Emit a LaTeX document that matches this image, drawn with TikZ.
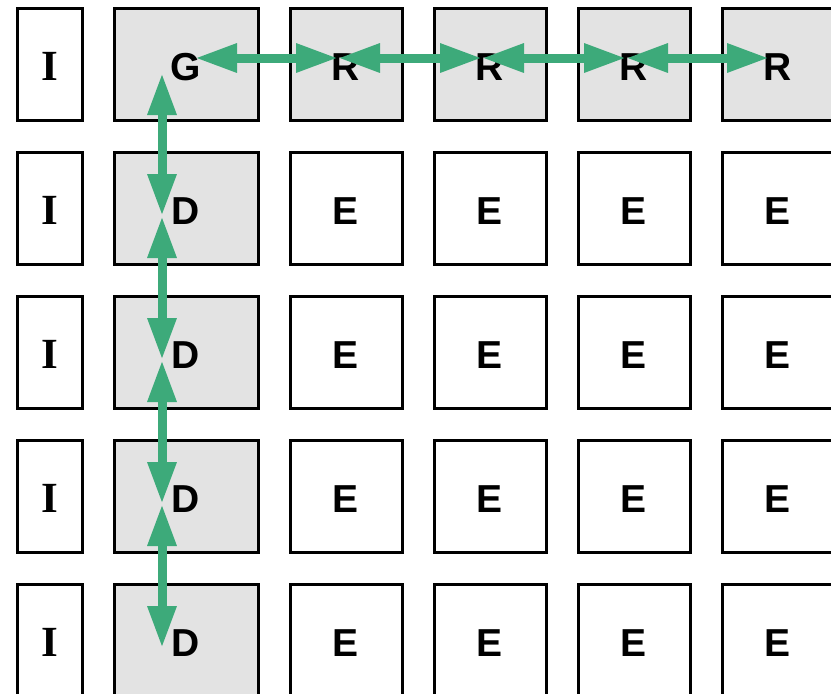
\documentclass[tikz,border=0pt]{standalone}
\usepackage{fontspec}
\setmainfont{Liberation Sans}
\newfontfamily\serifbold{Liberation Serif Bold}
\usetikzlibrary{arrows.meta,calc}
\definecolor{arrowgreen}{HTML}{3DAA7A}
\definecolor{cellgray}{HTML}{E3E3E3}
\tikzset{
  cell/.style={draw=black, line width=3pt, minimum height=112pt, inner sep=0pt,
    font=\fontsize{39}{39}\selectfont\bfseries, text height=32pt, text depth=0pt},
  narrowcell/.style={cell, fill=white, minimum width=65pt,
    font=\fontsize{43}{43}\selectfont\serifbold},
  widecell/.style={cell, fill=cellgray, minimum width=144pt},
  graycell/.style={cell, fill=cellgray, minimum width=112pt},
  whitecell/.style={cell, fill=white, minimum width=112pt},
  link/.style={draw=arrowgreen, line width=9pt,
    {Triangle[length=42pt,width=27pt]}-{Triangle[length=42pt,width=27pt]}}
}
\begin{document}
\begin{tikzpicture}[x=1pt,y=-1pt]
\useasboundingbox (0,0) rectangle (831,694);
% column I
\node[narrowcell] (i1) at (49.5,64) {I};
\node[narrowcell] (i2) at (49.5,208) {I};
\node[narrowcell] (i3) at (49.5,352) {I};
\node[narrowcell] (i4) at (49.5,496) {I};
\node[narrowcell] (i5) at (49.5,640) {I};
% column G / D
\node[widecell] (g) at (186,64) {G};
\node[widecell] (d2) at (186,208) {D};
\node[widecell] (d3) at (186,352) {D};
\node[widecell] (d4) at (186,496) {D};
\node[widecell] (d5) at (186,640) {D};
% top row R
\node[graycell] (r3) at (346,64) {R};
\node[graycell] (r4) at (490,64) {R};
\node[graycell] (r5) at (634,64) {R};
\node[graycell] (r6) at (778,64) {R};
% E cells
\foreach \r/\y in {2/208,3/352,4/496,5/640}{
  \foreach \c/\x in {3/346,4/490,5/634,6/778}{
    \node[whitecell] (e\r\c) at (\x,\y) {E};
  }
}
% arrow anchor points
\coordinate (gh) at ($(g.center)+(9,-6)$);
\coordinate (gv) at ($(g.center)+(-24,9)$);
\coordinate (r3p) at ($(r3.center)+(-8,-6)$);
\coordinate (r4p) at ($(r4.center)+(-8,-6)$);
\coordinate (r5p) at ($(r5.center)+(-8,-6)$);
\coordinate (r6p) at ($(r6.center)+(-9,-6)$);
\coordinate (d2p) at ($(d2.center)+(-24,8)$);
\coordinate (d3p) at ($(d3.center)+(-24,8)$);
\coordinate (d4p) at ($(d4.center)+(-24,8)$);
\coordinate (d5p) at ($(d5.center)+(-24,8)$);
% connectors
\draw[link] (gh) -- (r3p);
\draw[link] (r3p) -- (r4p);
\draw[link] (r4p) -- (r5p);
\draw[link] (r5p) -- (r6p);
\draw[link] (gv) -- (d2p);
\draw[link] (d2p) -- (d3p);
\draw[link] (d3p) -- (d4p);
\draw[link] (d4p) -- (d5p);
\end{tikzpicture}
\end{document}
